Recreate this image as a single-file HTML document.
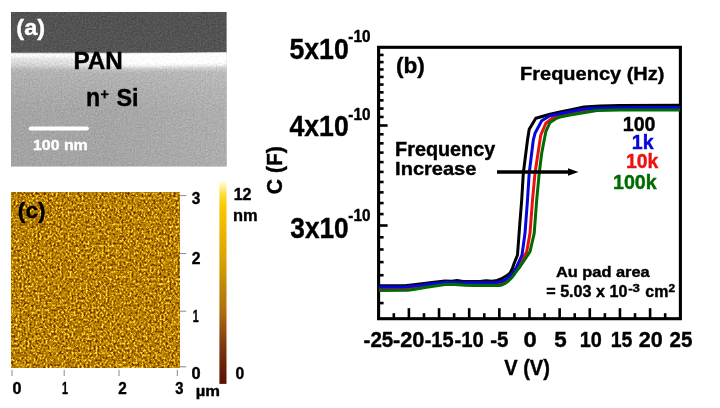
<!DOCTYPE html>
<html><head><meta charset="utf-8"><title>Figure</title>
<style>
html,body{margin:0;padding:0;background:#fff;}
body{width:720px;height:408px;overflow:hidden;}
svg{display:block;}
text{font-family:"Liberation Sans",Arial,Helvetica,sans-serif;font-weight:bold;stroke-width:0.4px;stroke-linejoin:round;}
</style></head><body>
<svg width="720" height="408" viewBox="0 0 720 408">
<defs>
<linearGradient id="semg" x1="0" y1="0" x2="0" y2="1" gradientUnits="objectBoundingBox">
<stop offset="0.0000" stop-color="#525252"/>
<stop offset="0.2563" stop-color="#545454"/>
<stop offset="0.2634" stop-color="#808080"/>
<stop offset="0.2699" stop-color="#e8e8e8"/>
<stop offset="0.2757" stop-color="#fafafa"/>
<stop offset="0.2886" stop-color="#f4f4f4"/>
<stop offset="0.3047" stop-color="#e2e2e2"/>
<stop offset="0.3241" stop-color="#dadada"/>
<stop offset="0.3467" stop-color="#d0d0d0"/>
<stop offset="0.3660" stop-color="#bcbcbc"/>
<stop offset="0.3886" stop-color="#b3b3b3"/>
<stop offset="0.4919" stop-color="#adadad"/>
<stop offset="0.6340" stop-color="#a6a6a6"/>
<stop offset="1.0000" stop-color="#a4a4a4"/>
</linearGradient>
<linearGradient id="semhv" gradientUnits="userSpaceOnUse" x1="0" y1="53.8" x2="0" y2="73.8">
<stop offset="0.000" stop-color="#fff" stop-opacity="1"/>
<stop offset="0.460" stop-color="#fff" stop-opacity="1"/>
<stop offset="0.585" stop-color="#fff" stop-opacity="0.8"/>
<stop offset="0.685" stop-color="#fff" stop-opacity="0.45"/>
<stop offset="0.810" stop-color="#fff" stop-opacity="0.15"/>
<stop offset="1.000" stop-color="#fff" stop-opacity="0"/>
</linearGradient>
<linearGradient id="semhh" gradientUnits="userSpaceOnUse" x1="11" y1="0" x2="226.8" y2="0">
<stop offset="0.000" stop-color="#fff" stop-opacity="0.0"/>
<stop offset="0.227" stop-color="#fff" stop-opacity="0.12"/>
<stop offset="0.389" stop-color="#fff" stop-opacity="0.5"/>
<stop offset="0.528" stop-color="#fff" stop-opacity="0.92"/>
<stop offset="0.644" stop-color="#fff" stop-opacity="1"/>
<stop offset="1.000" stop-color="#fff" stop-opacity="1"/>
</linearGradient>
<mask id="semm" maskUnits="userSpaceOnUse" x="11" y="50" width="216" height="30"><rect x="11" y="50" width="216" height="30" fill="url(#semhh)"/></mask>
<linearGradient id="semlr" x1="0" y1="0" x2="1" y2="0">
<stop offset="0" stop-color="#000" stop-opacity="0.01"/>
<stop offset="0.45" stop-color="#fff" stop-opacity="0"/>
<stop offset="1" stop-color="#fff" stop-opacity="0.10"/>
</linearGradient>
<linearGradient id="cbar" x1="0" y1="0" x2="0" y2="1">
<stop offset="0" stop-color="#fffef0"/>
<stop offset="0.025" stop-color="#fff4b0"/>
<stop offset="0.07" stop-color="#ffdc30"/>
<stop offset="0.13" stop-color="#f8c800"/>
<stop offset="0.29" stop-color="#e6b000"/>
<stop offset="0.44" stop-color="#d09a04"/>
<stop offset="0.52" stop-color="#c08608"/>
<stop offset="0.64" stop-color="#b07010"/>
<stop offset="0.81" stop-color="#803810"/>
<stop offset="0.91" stop-color="#6a220a"/>
<stop offset="1" stop-color="#581206"/>
</linearGradient>
<clipPath id="semclip"><rect x="11" y="11.8" width="215.8" height="154.9"/></clipPath>
<filter id="semn" x="0" y="0" width="100%" height="100%" color-interpolation-filters="sRGB">
<feTurbulence type="fractalNoise" baseFrequency="0.62" numOctaves="2" seed="3" result="n"/>
<feColorMatrix in="n" type="matrix" values="0.5 0.5 0 0 0  0.5 0.5 0 0 0  0.5 0.5 0 0 0  0 0 0 0 1" result="g"/>
<feComposite in="SourceGraphic" in2="g" operator="arithmetic" k1="0" k2="1" k3="0.26" k4="-0.13" result="c"/>
<feComposite in="c" in2="SourceGraphic" operator="in"/>
</filter>
<filter id="afm" x="0" y="0" width="100%" height="100%" color-interpolation-filters="sRGB">
<feTurbulence type="fractalNoise" baseFrequency="0.5 0.42" numOctaves="2" seed="7" result="n"/>
<feColorMatrix in="n" type="matrix" values="1.4 1.4 0 0 -0.9  1.4 1.4 0 0 -0.9  1.4 1.4 0 0 -0.9  0 0 0 0 1"/>
<feComponentTransfer>
<feFuncR type="table" tableValues="0.40 0.52 0.66 0.78 0.93 1"/>
<feFuncG type="table" tableValues="0.20 0.30 0.43 0.56 0.76 0.9"/>
<feFuncB type="table" tableValues="0 0 0.005 0.02 0.08 0.3"/>
</feComponentTransfer>
</filter>
</defs>
<rect width="720" height="408" fill="#fff"/>

<!-- (a) SEM cross-section -->
<g filter="url(#semn)" clip-path="url(#semclip)"><rect x="11" y="11.8" width="215.8" height="154.9" fill="url(#semg)"/>
<rect x="11" y="68" width="215.8" height="98.7" fill="url(#semlr)"/>
<g mask="url(#semm)"><rect x="11" y="53.8" width="215.8" height="20" fill="url(#semhv)" transform="rotate(-0.8 120 64)"/></g></g>
<line x1="30.6" y1="128.6" x2="86.9" y2="128.6" stroke="#fff" stroke-width="4" stroke-linecap="round"/>

<!-- (c) AFM -->
<rect x="11" y="192.2" width="168.4" height="175.4" fill="#b98a14" filter="url(#afm)"/>
<g stroke="#888" stroke-width="1" fill="none">
<line x1="179.4" y1="195.6" x2="186.2" y2="195.6"/>
<line x1="179.4" y1="253.6" x2="186.2" y2="253.6"/>
<line x1="179.4" y1="311.2" x2="186.2" y2="311.2"/>
<line x1="179.4" y1="366.8" x2="186.2" y2="366.8"/>
<line x1="12" y1="369.9" x2="12" y2="376"/>
<line x1="64.2" y1="369.9" x2="64.2" y2="376"/>
<line x1="119" y1="369.9" x2="119" y2="376"/>
<line x1="177.3" y1="369.9" x2="177.3" y2="376"/>
</g>
<rect x="219.4" y="180.6" width="7.1" height="203.3" fill="url(#cbar)"/>

<!-- (b) C-V plot -->
<g stroke="#000" stroke-width="2.6" fill="none">
<line x1="378.6" y1="303.07" x2="383.6" y2="303.07"/>
<line x1="378.6" y1="288.88" x2="383.6" y2="288.88"/>
<line x1="378.6" y1="275.24" x2="383.6" y2="275.24"/>
<line x1="378.6" y1="262.13" x2="383.6" y2="262.13"/>
<line x1="378.6" y1="249.48" x2="383.6" y2="249.48"/>
<line x1="378.6" y1="237.29" x2="383.6" y2="237.29"/>
<line x1="378.6" y1="225.50" x2="387.6" y2="225.50"/>
<line x1="378.6" y1="214.10" x2="383.6" y2="214.10"/>
<line x1="378.6" y1="203.07" x2="383.6" y2="203.07"/>
<line x1="378.6" y1="192.37" x2="383.6" y2="192.37"/>
<line x1="378.6" y1="181.99" x2="383.6" y2="181.99"/>
<line x1="378.6" y1="171.92" x2="383.6" y2="171.92"/>
<line x1="378.6" y1="162.12" x2="383.6" y2="162.12"/>
<line x1="378.6" y1="152.60" x2="383.6" y2="152.60"/>
<line x1="378.6" y1="143.33" x2="383.6" y2="143.33"/>
<line x1="378.6" y1="134.30" x2="383.6" y2="134.30"/>
<line x1="378.6" y1="125.50" x2="387.6" y2="125.50"/>
<line x1="378.6" y1="116.92" x2="383.6" y2="116.92"/>
<line x1="378.6" y1="108.54" x2="383.6" y2="108.54"/>
<line x1="378.6" y1="100.36" x2="383.6" y2="100.36"/>
<line x1="378.6" y1="92.37" x2="383.6" y2="92.37"/>
<line x1="378.6" y1="84.56" x2="383.6" y2="84.56"/>
<line x1="378.6" y1="76.92" x2="383.6" y2="76.92"/>
<line x1="378.6" y1="69.44" x2="383.6" y2="69.44"/>
<line x1="378.6" y1="62.12" x2="383.6" y2="62.12"/>
<line x1="378.6" y1="54.96" x2="383.6" y2="54.96"/>
<line x1="393.82" y1="318.7" x2="393.82" y2="313.2"/>
<line x1="408.90" y1="318.7" x2="408.90" y2="308.2"/>
<line x1="423.98" y1="318.7" x2="423.98" y2="313.2"/>
<line x1="439.05" y1="318.7" x2="439.05" y2="308.2"/>
<line x1="454.12" y1="318.7" x2="454.12" y2="313.2"/>
<line x1="469.20" y1="318.7" x2="469.20" y2="308.2"/>
<line x1="484.27" y1="318.7" x2="484.27" y2="313.2"/>
<line x1="499.35" y1="318.7" x2="499.35" y2="308.2"/>
<line x1="514.42" y1="318.7" x2="514.42" y2="313.2"/>
<line x1="529.50" y1="318.7" x2="529.50" y2="308.2"/>
<line x1="544.58" y1="318.7" x2="544.58" y2="313.2"/>
<line x1="559.65" y1="318.7" x2="559.65" y2="308.2"/>
<line x1="574.73" y1="318.7" x2="574.73" y2="313.2"/>
<line x1="589.80" y1="318.7" x2="589.80" y2="308.2"/>
<line x1="604.88" y1="318.7" x2="604.88" y2="313.2"/>
<line x1="619.95" y1="318.7" x2="619.95" y2="308.2"/>
<line x1="635.02" y1="318.7" x2="635.02" y2="313.2"/>
<line x1="650.10" y1="318.7" x2="650.10" y2="308.2"/>
<line x1="665.17" y1="318.7" x2="665.17" y2="313.2"/>
</g>
<rect x="378.6" y="47.3" width="301.79999999999995" height="271.4" fill="none" stroke="#000" stroke-width="3.1"/>
<polyline fill="none" stroke="#ee1010" stroke-width="3" stroke-linejoin="round" points="378.8,288.2 405,288.2 420,286.5 432,285 445,283.5 463,284 480,284 498,283.6 503,283 507,281 510.5,278 513.5,274.5 516.5,270 518.3,266.7 526.7,251.7 530,233.3 532.5,200 535,173.3 540,140 540.8,135 545.8,123.3 553.3,117.5 562,115.2 572,113.2 590,109.6 600,109 620,108.6 680,108.4"/>
<polyline fill="none" stroke="#000" stroke-width="3" stroke-linejoin="round" points="378.8,285.7 405,285.7 420,284 432,282.5 445,281 452,281.2 457,280.5 463,281.5 480,281.5 486,280.7 492,281.3 497,280.5 501,279 504,277.2 507,275.5 510,273.2 512.4,268.5 513.9,264 517.5,255 519.7,225 521.7,200 523.3,173.3 527.5,140 529.2,129.2 535.8,118.3 550,114.2 560,112 570,110 584,107 600,106 620,105.6 680,105.3"/>
<polyline fill="none" stroke="#0606dc" stroke-width="3" stroke-linejoin="round" points="378.8,287 405,287 420,285.3 432,283.8 445,282.3 463,282.8 480,282.8 497,282.4 502,281.3 506,279.3 509.5,276.5 512.5,273 515,269.5 516.7,266.7 522,255 525,233.3 527.5,200 529.2,173.3 533.3,140 535,133.3 541.7,120.8 550,115.8 560,113.8 570,111.8 586,108.8 600,108 620,107.7 680,107.5"/>
<polyline fill="none" stroke="#006c00" stroke-width="3" stroke-linejoin="round" points="378.8,290.4 408,290.2 415,289.3 425,287.5 435,286 445,284.6 455,284.6 465,285.3 475,285.6 495,285.6 499,285.4 502,285 505,283.5 508.7,280.7 511.5,278 513.6,275.4 517,270.5 520,266.7 530,251.7 534.2,233.3 536.7,200 539.2,173.3 541.7,153.3 544.2,140 545.8,131.7 550,122.5 555.8,118.7 560,117 570,115 597,110.5 620,110.1 680,110"/>
<line x1="497" y1="172" x2="570" y2="172" stroke="#000" stroke-width="3.4"/>
<polygon points="568,168.2 578.5,172 568,175.8" fill="#000"/>

<!-- labels -->
<text transform="translate(16.33,35.03) scale(1.0900,1)" font-size="21.54" fill="#fff" stroke="#fff">(a)</text>
<text transform="translate(73.50,68.55) scale(1.0398,1)" font-size="23.33" fill="#000" stroke="#000">PAN</text>
<text transform="translate(86.08,106.25) scale(0.9216,1)" font-size="25.09" fill="#000" stroke="#000">n</text>
<text transform="translate(100.53,98.53) scale(1.0058,1)" font-size="14.12" fill="#000" stroke="#000">+</text>
<text transform="translate(116.40,106.46) scale(0.9867,1)" font-size="23.65" fill="#000" stroke="#000">Si</text>
<text transform="translate(32.95,150.05) scale(1.0754,1)" font-size="14.79" fill="#fff" stroke="#fff">100 nm</text>
<text transform="translate(17.81,217.78) scale(1.0064,1)" font-size="22.71" fill="#000" stroke="#000">(c)</text>
<text transform="translate(191.79,204.30) scale(0.9448,1)" font-size="16.30" fill="#000" stroke="#000">3</text>
<text transform="translate(191.63,264.40) scale(0.9641,1)" font-size="16.30" fill="#000" stroke="#000">2</text>
<text transform="translate(192.76,321.60) scale(0.6527,1)" font-size="16.30" fill="#000" stroke="#000">1</text>
<text transform="translate(191.44,379.30) scale(1.0051,1)" font-size="16.30" fill="#000" stroke="#000">0</text>
<text transform="translate(12.55,394.00) scale(0.9920,1)" font-size="16.30" fill="#000" stroke="#000">0</text>
<text transform="translate(61.96,394.00) scale(0.6527,1)" font-size="16.30" fill="#000" stroke="#000">1</text>
<text transform="translate(118.24,394.00) scale(0.9390,1)" font-size="16.30" fill="#000" stroke="#000">2</text>
<text transform="translate(175.20,394.00) scale(0.9080,1)" font-size="16.30" fill="#000" stroke="#000">3</text>
<text transform="translate(195.84,395.90) scale(1.1028,1)" font-size="15.00" fill="#000" stroke="#000">µm</text>
<text transform="translate(233.64,200.40) scale(1.0025,1)" font-size="16.00" fill="#000" stroke="#000">12</text>
<text transform="translate(233.05,220.60) scale(0.9692,1)" font-size="16.94" fill="#000" stroke="#000">nm</text>
<text transform="translate(235.57,379.14) scale(0.9655,1)" font-size="16.20" fill="#000" stroke="#000">0</text>
<text transform="translate(289.40,58.50) scale(0.9166,1)" font-size="29.10" fill="#000" stroke="#000">5x10</text>
<text transform="translate(289.42,136.40) scale(0.9164,1)" font-size="29.10" fill="#000" stroke="#000">4x10</text>
<text transform="translate(290.27,237.50) scale(0.9029,1)" font-size="29.10" fill="#000" stroke="#000">3x10</text>
<text transform="translate(348.34,41.80) scale(0.9765,1)" font-size="15.70" fill="#000" stroke="#000">-10</text>
<text transform="translate(348.34,120.10) scale(0.9765,1)" font-size="15.70" fill="#000" stroke="#000">-10</text>
<text transform="translate(348.34,220.80) scale(0.9765,1)" font-size="15.70" fill="#000" stroke="#000">-10</text>
<text transform="translate(281.90,194.14) rotate(-90) scale(0.9223,1)" font-size="22.87" fill="#000" stroke="#000">C (F)</text>
<text transform="translate(395.97,73.11) scale(0.9916,1)" font-size="22.82" fill="#000" stroke="#000">(b)</text>
<text transform="translate(520.05,79.87) scale(1.0689,1)" font-size="18.72" fill="#000" stroke="#000">Frequency (Hz)</text>
<text transform="translate(395.11,156.30) scale(1.0045,1)" font-size="19.71" fill="#000" stroke="#000">Frequency</text>
<text transform="translate(395.10,175.40) scale(1.0468,1)" font-size="19.13" fill="#000" stroke="#000">Increase</text>
<text transform="translate(622.77,131.40) scale(1.0025,1)" font-size="19.60" fill="#000" stroke="#000">100</text>
<text transform="translate(631.77,148.50) scale(1.0010,1)" font-size="19.60" fill="#0606dc" stroke="#0606dc">1k</text>
<text transform="translate(625.94,168.10) scale(0.9887,1)" font-size="19.60" fill="#ee1010" stroke="#ee1010">10k</text>
<text transform="translate(613.02,189.40) scale(1.0039,1)" font-size="19.60" fill="#006c00" stroke="#006c00">100k</text>
<text transform="translate(555.96,277.00) scale(1.1279,1)" font-size="14.52" fill="#000" stroke="#000">Au pad area</text>
<text transform="translate(546.25,297.00) scale(0.9825,1)" font-size="16.43" fill="#000" stroke="#000">= 5.03 x 10</text>
<text transform="translate(628.17,291.99) scale(1.2341,1)" font-size="10.70" fill="#000" stroke="#000">-3</text>
<text transform="translate(645.36,297.00) scale(0.9935,1)" font-size="16.00" fill="#000" stroke="#000">cm</text>
<text transform="translate(668.59,292.10) scale(1.0996,1)" font-size="10.86" fill="#000" stroke="#000">2</text>
<text transform="translate(363.58,347.10) scale(0.9312,1)" font-size="22.10" fill="#000" stroke="#000">-25</text>
<text transform="translate(393.03,347.10) scale(0.9848,1)" font-size="22.10" fill="#000" stroke="#000">-20</text>
<text transform="translate(424.70,347.10) scale(0.9050,1)" font-size="22.10" fill="#000" stroke="#000">-15</text>
<text transform="translate(454.39,347.10) scale(0.9183,1)" font-size="22.10" fill="#000" stroke="#000">-10</text>
<text transform="translate(490.18,347.10) scale(0.9270,1)" font-size="22.10" fill="#000" stroke="#000">-5</text>
<text transform="translate(523.45,347.10) scale(1.0783,1)" font-size="22.10" fill="#000" stroke="#000">0</text>
<text transform="translate(554.23,347.10) scale(1.0136,1)" font-size="22.10" fill="#000" stroke="#000">5</text>
<text transform="translate(579.81,347.10) scale(0.9005,1)" font-size="22.10" fill="#000" stroke="#000">10</text>
<text transform="translate(610.73,347.10) scale(0.8828,1)" font-size="22.10" fill="#000" stroke="#000">15</text>
<text transform="translate(638.75,347.10) scale(0.9746,1)" font-size="22.10" fill="#000" stroke="#000">20</text>
<text transform="translate(669.58,347.10) scale(0.9308,1)" font-size="22.10" fill="#000" stroke="#000">25</text>
<text transform="translate(504.20,374.65) scale(0.9079,1)" font-size="22.13" fill="#000" stroke="#000">V (V)</text>
</svg>
</body></html>
